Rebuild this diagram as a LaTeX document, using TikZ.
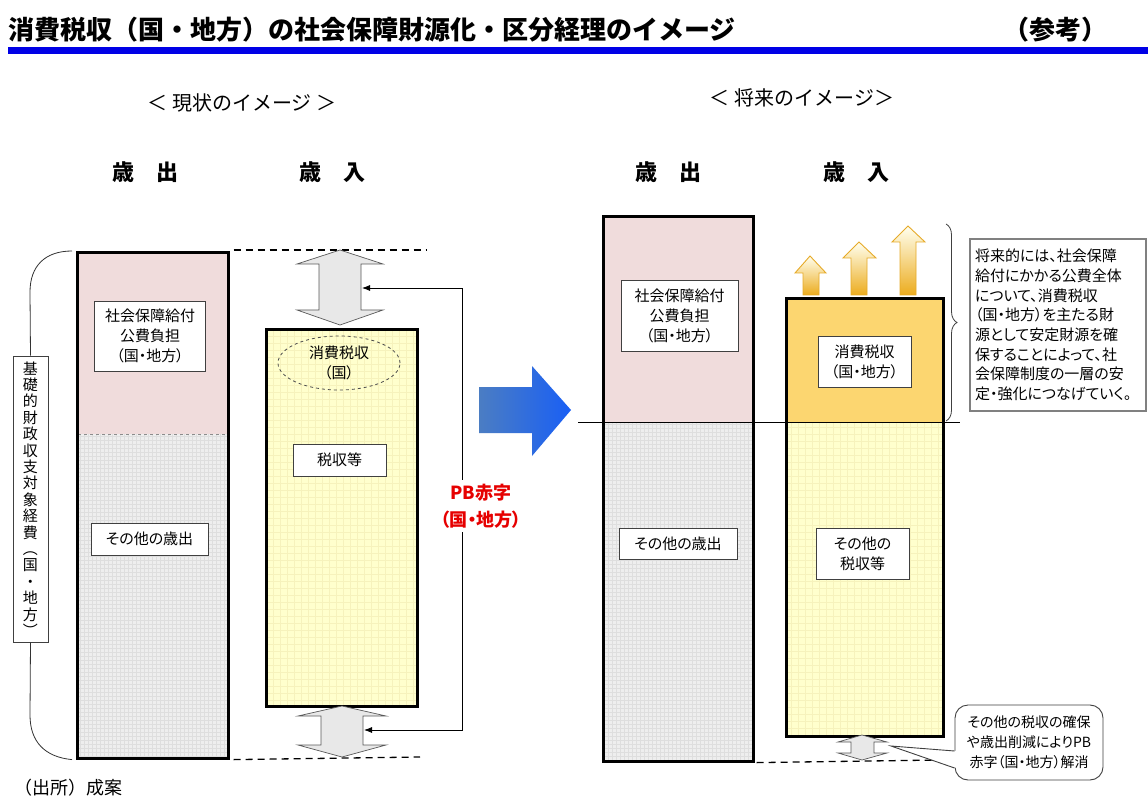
\documentclass[tikz,border=0pt]{standalone}
\usepackage{fontspec}
\setmainfont{Noto Sans CJK JP}
\newfontfamily\pfont[RawFeature=+palt]{Noto Sans CJK JP}
\usetikzlibrary{arrows.meta,decorations.pathreplacing,calc,shapes.geometric}
\definecolor{pinkfill}{RGB}{240,220,220}
\definecolor{grayfill}{RGB}{238,238,238}
\definecolor{gridgray}{RGB}{222,222,222}
\definecolor{yelfill}{RGB}{255,255,205}
\definecolor{gridyel}{RGB}{246,242,188}
\definecolor{goldfill}{RGB}{252,214,112}
\definecolor{titleblue}{RGB}{0,0,230}
\definecolor{pbred}{RGB}{230,0,0}
\definecolor{arrowgold}{RGB}{236,172,30}
\definecolor{arrowline}{RGB}{230,170,40}
\definecolor{blueA}{RGB}{75,125,195}
\definecolor{blueB}{RGB}{25,95,245}
\begin{document}
\begin{tikzpicture}[x=1pt,y=-1pt,
  lbl/.style={draw=black!75, line width=0.8pt, fill=white, align=center, font=\pfont\fontsize{15}{20}\selectfont, inner sep=0pt},
  barbox/.style={draw=black, line width=2.6pt, inner sep=0pt, anchor=north west},
  hdr/.style={font=\bfseries\fontsize{22}{24}\selectfont},
  subhd/.style={font=\fontsize{20}{22}\selectfont},
  dashln/.style={dash pattern=on 7pt off 5pt, line width=1.3pt},
  darrow/.style={draw=black!65, line width=0.7pt, fill=black!9},
  cline/.style={line width=0.8pt, draw=black!80},
  conn/.style={line width=0.8pt, -{Latex[length=8pt,width=6pt]}},
  uparr/.style={draw=arrowline, line width=0.9pt, top color=yellow!6, bottom color=arrowgold}
]
\useasboundingbox (0,0) rectangle (1148,799);
\fill[white] (0,0) rectangle (1148,799);

% title
\node[anchor=west, font=\bfseries\fontsize{26}{28}\selectfont, inner sep=0pt] (title) at (8,30) {消費税収（国・地方）の社会保障財源化・区分経理のイメージ};
\node[anchor=east, font=\bfseries\fontsize{26}{28}\selectfont, inner sep=0pt] (ref) at (1108,30) {（参考）};
\fill[titleblue] (8,47) rectangle (1148,54);

% sub headers
\node[subhd] (nowhd) at (242,103) {＜ 現状のイメージ ＞};
\node[subhd] (futhd) at (802,98) {＜ 将来のイメージ＞};
\node[hdr] (lexph) at (145,172) {歳\hspace{22pt}出};
\node[hdr] (lrevh) at (332,172) {歳\hspace{22pt}入};
\node[hdr] (rexph) at (668,172) {歳\hspace{22pt}出};
\node[hdr] (rrevh) at (856,172) {歳\hspace{22pt}入};

% ===== left: expenditure =====
\fill[pinkfill] (76,251) rectangle (227,434);
\fill[grayfill] (76,434) rectangle (227,757);
\begin{scope}
  \clip (76,434) rectangle (227,757);
  \draw[gridgray, line width=0.4pt, step=4pt] (76,757) grid (227,434);
\end{scope}
\draw[black!45, dashed, line width=1pt] (78,434) -- (225,434);
\node[barbox, minimum width=151, minimum height=506] (lexp) at (76,251) {};
\node[lbl, minimum width=111, minimum height=70] (lsoc) at (150,336) {社会保障給付\\公費負担\\（国・地方）};
\node[lbl, minimum width=117, minimum height=32] (lother) at (149.5,539) {その他の歳出};

% left bracket label
\node[draw=black!75, line width=0.8pt, fill=white, minimum width=35, minimum height=286, inner sep=0pt, align=center, font=\fontsize{15}{16.4}\selectfont] (lbase) at (30.5,499) {基\\礎\\的\\財\\政\\収\\支\\対\\象\\経\\費\\︵\\国\\・\\地\\方\\︶};
\draw[cline] ($(lexp.north west)+(-4,0)$) .. controls (45,251) and (30,266) .. (30,292) -- (lbase.north);
\draw[cline] (lbase.south) -- (30,715) .. controls (30,742) and (45,757) .. ($(lexp.south west)+(-4,0)$);

% ===== left: revenue =====
\fill[yelfill] (265,328) rectangle (416,705);
\begin{scope}
  \clip (265,328) rectangle (416,705);
  \draw[gridyel, line width=0.4pt, step=7pt] (265,705) grid (416,328);
\end{scope}
\node[barbox, minimum width=151, minimum height=377] (lrev) at (265,328) {};
\node[draw=black!70, dashed, line width=0.8pt, ellipse, minimum width=122, minimum height=54, inner sep=0pt, align=center, font=\pfont\fontsize{15}{20}\selectfont] (lcons) at (339,363) {消費税収\\（国）};
\node[lbl, minimum width=93, minimum height=32] (ltax) at (339.5,460) {税収等};

% dashed guide lines
\coordinate (dtop) at (427,250);
\coordinate (dbot) at (420,757);
\draw[dashln] ($(lexp.north east)+(4,-1)$) -- (dtop);
\draw[dashln] ($(lexp.south east)+(4,0)$) -- (dbot);

% double arrows
\draw[darrow] (340,250) -- (383,264) -- (361,264) -- (361,310) -- (383,310) -- (340,325) -- (297,310) -- (319,310) -- (319,264) -- (297,264) -- cycle;
\coordinate (tarrR) at (362,288);
\draw[darrow] (342,706) -- (386,716) -- (363,716) -- (363,745) -- (386,745) -- (342,757) -- (298,745) -- (321,745) -- (321,716) -- (298,716) -- cycle;
\coordinate (barrR) at (364,730);

% PB label and connectors
\node[font=\pfont\bfseries\fontsize{18}{27}\selectfont, text=pbred, align=center, inner sep=4pt] (pb) at (481,506) {PB赤字\\（国・地方）};
\draw[conn] ($(pb.north)+(-19,0)$) |- (tarrR);
\draw[conn] ($(pb.south)+(-19,0)$) |- (barrR);

% big blue arrow
\shade[left color=blueA, right color=blueB] (479,387) -- (532,387) -- (532,366) -- (571,410) -- (532,456) -- (532,433) -- (479,433) -- cycle;

% ===== right: expenditure =====
\fill[pinkfill] (602,215) rectangle (752,422);
\fill[grayfill] (602,422) rectangle (752,760);
\begin{scope}
  \clip (602,422) rectangle (752,760);
  \draw[gridgray, line width=0.4pt, step=4pt] (602,760) grid (752,422);
\end{scope}

% ===== right: revenue =====
\fill[goldfill] (785,297) rectangle (942,422);
\fill[yelfill] (785,422) rectangle (942,735);
\begin{scope}
  \clip (785,422) rectangle (942,735);
  \draw[gridyel, line width=0.4pt, step=7pt] (785,735) grid (942,422);
\end{scope}

% separator line
\coordinate (hl) at (578,422);
\coordinate (hr) at (960,422);
\draw[line width=0.8pt] (hl) -- (hr);

\node[barbox, minimum width=150, minimum height=545] (rexp) at (602,215) {};
\node[barbox, minimum width=157, minimum height=438] (rrev) at (785,297) {};
\node[lbl, minimum width=117, minimum height=71] (rsoc) at (679.5,315.5) {社会保障給付\\公費負担\\（国・地方）};
\node[lbl, minimum width=118, minimum height=31] (rother) at (678,543.5) {その他の歳出};
\node[lbl, minimum width=93, minimum height=51] (rcons) at (864.5,361.5) {消費税収\\（国・地方）};
\node[lbl, minimum width=93, minimum height=51] (rotax) at (862.5,553.5) {その他の\\税収等};

% up arrows
\path[uparr] (810,256) -- (826,273) -- (819,273) -- (819,295) -- (803,295) -- (803,273) -- (795,273) -- cycle;
\path[uparr] (859,242) -- (876,258) -- (867,258) -- (867,295) -- (851,295) -- (851,258) -- (843,258) -- cycle;
\path[uparr] (908,226) -- (925,242) -- (916,242) -- (916,295) -- (900,295) -- (900,242) -- (892,242) -- cycle;

% brace and note
\draw[line width=0.8pt, black!75, decorate, decoration={brace, amplitude=11pt}] (946,224) -- (946,421);
\node[draw=black!50, line width=1.6pt, fill=white, minimum width=176, minimum height=172, inner sep=0pt, align=left, text width=166, font=\pfont\fontsize{15}{19.7}\selectfont] (note) at (1058,325) {将来的には、社会保障\\給付にかかる公費全体\\について、消費税収\\（国・地方）を主たる財\\源として安定財源を確\\保することによって、社\\会保障制度の一層の安\\定・強化につなげていく。};

% bottom right
\coordinate (rdend) at (940,760);
\draw[dashln] ($(rexp.south east)+(2,0)$) -- (rdend);
\draw[darrow] (862,735) -- (887,742) -- (874,742) -- (874,753) -- (887,753) -- (862,760) -- (838,753) -- (851,753) -- (851,742) -- (838,742) -- cycle;
\coordinate (sarrR) at (891,746);
\node[draw=black!75, line width=0.9pt, fill=white, rounded corners=13pt, minimum width=148, minimum height=75, inner sep=0pt, align=center, font=\pfont\fontsize{14}{20}\selectfont] (pbnote) at (1029,742.5) {その他の税収の確保\\や歳出削減によりPB\\赤字（国・地方）解消};
\fill[white] (956.5,751) -- (sarrR) -- (956.5,768) -- cycle;
\draw[line width=0.9pt, black!75, line join=miter] ($(pbnote.west)+(0,8.5)$) -- (sarrR) -- ($(pbnote.west)+(0,25.5)$);

% footer
\node[anchor=west, font=\fontsize{18}{20}\selectfont, inner sep=0pt] (src) at (14,788) {（出所）成案};
\end{tikzpicture}
\end{document}
